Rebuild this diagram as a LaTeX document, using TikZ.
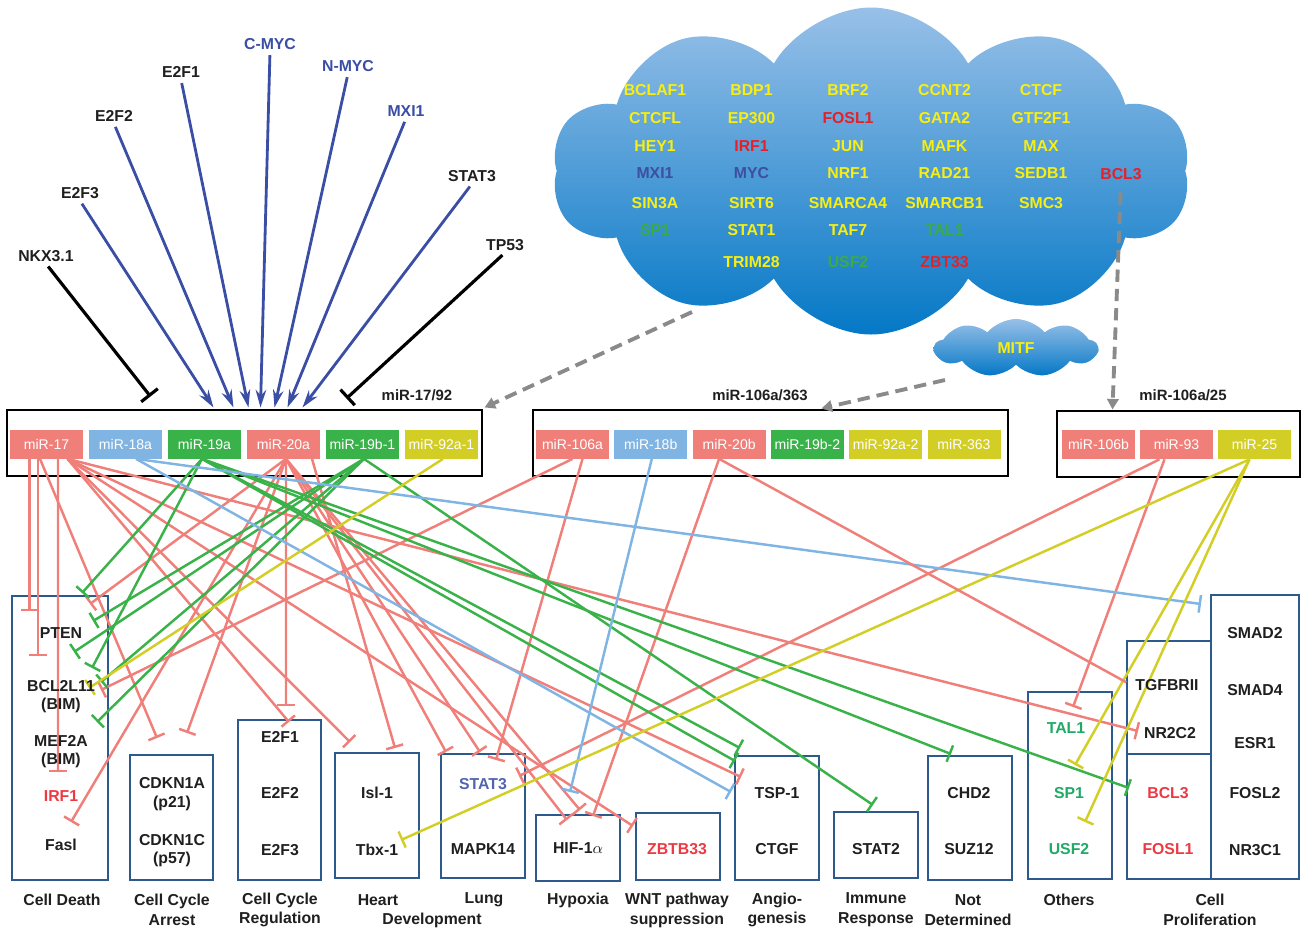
\documentclass[tikz,border=0pt]{standalone}
\usepackage{fontspec}
\setmainfont{Liberation Sans}
\usetikzlibrary{arrows.meta,calc,shapes.symbols}

\definecolor{mred}{RGB}{240,127,122}
\definecolor{mblue}{RGB}{128,180,226}
\definecolor{mgreen}{RGB}{58,178,74}
\definecolor{myel}{RGB}{211,206,38}
\definecolor{tfblue}{RGB}{58,78,165}
\definecolor{boxblue}{RGB}{45,90,140}
\definecolor{cyel}{RGB}{248,238,18}
\definecolor{cred}{RGB}{230,32,40}
\definecolor{cgreen}{RGB}{60,170,70}
\definecolor{cblue}{RGB}{62,78,160}
\definecolor{ctop}{RGB}{152,192,232}
\definecolor{cbot}{RGB}{4,120,198}
\definecolor{dgray}{RGB}{138,138,138}
\definecolor{tgreen}{RGB}{0,158,80}
\definecolor{tred}{RGB}{235,30,40}

\newcommand\pxu{0.02cm}

\tikzset{
  mir/.style={rectangle, minimum width=73*\pxu, minimum height=29*\pxu, inner sep=0pt,
    text=white, font=\fontsize{8}{9}\selectfont},
  frame/.style={draw, line width=0.6pt, inner sep=0pt},
  tbox/.style={draw=boxblue, line width=0.8pt, inner sep=0pt},
  lab/.style={font=\bfseries\fontsize{9}{11.3}\selectfont, text=black!88, align=center, inner sep=1pt},
  ctext/.style={font=\bfseries\fontsize{9}{10}\selectfont, inner sep=1pt},
  tfact/.style={tfblue, line width=1.6pt, -{Stealth[length=10pt,width=6pt]}, shorten <=2pt},
  tfinh/.style={black, line width=1.8pt, -{Bar[width=12pt]}, shorten <=2pt},
  inh/.style={#1, line width=1.4pt, -{Bar[width=10pt]}},
  link/.style={#1, line width=1.4pt},
  feed/.style={dgray, line width=2.2pt, dash pattern=on 7pt off 4pt, -{Triangle[length=6pt,width=6.5pt]}},
}

\begin{document}
\begin{tikzpicture}[x=0.02cm, y=-0.02cm]
\useasboundingbox (0,0) rectangle (1303,931);

% factor cloud
\node[cloud, cloud puffs=10, cloud puff arc=120, aspect=1.95, top color=ctop, bottom color=cbot,
  minimum width=638*\pxu, minimum height=327*\pxu, inner sep=0pt] (tfc) at (871,171) {};
\foreach \t/\cc/\c/\y [count=\i] in {
  BCLAF1/cyel/0/90, BDP1/cyel/1/90, BRF2/cyel/2/90, CCNT2/cyel/3/90, CTCF/cyel/4/90,
  CTCFL/cyel/0/118, EP300/cyel/1/118, FOSL1/cred/2/118, GATA2/cyel/3/118, GTF2F1/cyel/4/118,
  HEY1/cyel/0/146, IRF1/cred/1/146, JUN/cyel/2/146, MAFK/cyel/3/146, MAX/cyel/4/146,
  MXI1/cblue/0/173, MYC/cblue/1/173, NRF1/cyel/2/173, RAD21/cyel/3/173, SEDB1/cyel/4/173,
  SIN3A/cyel/0/203, SIRT6/cyel/1/203, SMARCA4/cyel/2/203, SMARCB1/cyel/3/203, SMC3/cyel/4/203,
  SP1/cgreen/0/230, STAT1/cyel/1/230, TAF7/cyel/2/230, TAL1/cgreen/3/230,
  TRIM28/cyel/1/262, USF2/cgreen/2/262, ZBT33/cred/3/262}
  \node[ctext, text=\cc] (g\i) at (655+96.5*\c,\y) {\t};
\node[ctext, text=cred] (bcl3) at (1121,174) {BCL3};
\node[cloud, cloud puffs=9, cloud puff arc=100, aspect=2.8, top color=ctop, bottom color=cbot,
  minimum width=163*\pxu, minimum height=58*\pxu, inner sep=0pt, text=cyel,
  font=\bfseries\fontsize{9}{10}\selectfont] (mitf) at (1016,348) {MITF};

% transcription factors
\node[lab] (nkx) at (46,256) {NKX3.1};
\node[lab] (e2f3) at (80,193) {E2F3};
\node[lab] (e2f2) at (114,116) {E2F2};
\node[lab] (e2f1) at (181,72) {E2F1};
\node[lab, text=tfblue] (cmyc) at (270,44) {C-MYC};
\node[lab, text=tfblue] (nmyc) at (348,66) {N-MYC};
\node[lab, text=tfblue] (mxi1) at (406,111) {MXI1};
\node[lab] (stat3) at (472,176) {STAT3};
\node[lab] (tp53) at (505,245) {TP53};

% clusters
\node[frame, minimum width=475*\pxu, minimum height=66*\pxu] (c1) at (244.5,443) {};
\node[frame, minimum width=475*\pxu, minimum height=66*\pxu] (c2) at (770.5,443) {};
\node[frame, minimum width=243*\pxu, minimum height=66*\pxu] (c3) at (1178.5,444) {};
\node[lab, font=\bfseries\fontsize{8.5}{10}\selectfont] (l1) at (417,395) {miR-17/92};
\node[lab, font=\bfseries\fontsize{8.5}{10}\selectfont] (l2) at (760,395) {miR-106a/363};
\node[lab, font=\bfseries\fontsize{8.5}{10}\selectfont] (l3) at (1183,395) {miR-106a/25};

\foreach \n/\t/\c [count=\i from 0] in {m17/miR-17/mred, m18a/miR-18a/mblue, m19a/miR-19a/mgreen,
    m20a/miR-20a/mred, m19b/miR-19b-1/mgreen, m92/miR-92a-1/myel}
  \node[mir, fill=\c] (\n) at (46.5+79*\i,444) {\t};
\foreach \n/\t/\c [count=\i from 0] in {m106a/miR-106a/mred, m18b/miR-18b/mblue, m20b/miR-20b/mred,
    m19b2/miR-19b-2/mgreen, m92b/miR-92a-2/myel, m363/miR-363/myel}
  \node[mir, fill=\c] (\n) at (572.5+78.3*\i,444) {\t};
\foreach \n/\t/\c [count=\i from 0] in {m106b/miR-106b/mred, m93/miR-93/mred, m25/miR-25/myel}
  \node[mir, fill=\c] (\n) at (1098.5+78*\i,444.5) {\t};

% regulation of the clusters
\foreach \s/\d in {e2f3/207, e2f2/227, e2f1/242, cmyc/254, nmyc/268, mxi1/281, stat3/296}
  \draw[tfact] (\s.south) -- ($(c1.north west)+(\d,-2)$);
\draw[tfinh] (nkx.south) -- ($(c1.north west)+(144,-13)$);
\draw[tfinh] (tp53.south) -- ($(c1.north west)+(340,-11)$);
\draw[feed] ($(tfc.center)+(-179,141)$) -- ($(c1.north east)+(2,-2)$);
\draw[feed] ($(mitf.center)+(-71,32)$) -- ($(c2.north west)+(289,-1)$);
\draw[feed, shorten <=6pt] (bcl3.south) -- ($(c3.north west)+(56,-1)$);

% target groups
\foreach \n/\x/\y/\w/\h in {cd/60/738/96/284, cca/171.5/817.5/83/125, ccr/279.5/800/83/160,
    hrt/377/815.5/84/125, lng/483/816/84/124, hyp/578/848/84/66, wnt/678/846.5/84/67,
    ang/777/818/84/124, imm/876/845/84/66, nd/970/818/84/124, oth/1070/785.5/84/187,
    tg/1169/697.5/84/113, bc/1169/816.5/84/125, sm/1255/737/88/284}
  \node[tbox, minimum width=\w*\pxu, minimum height=\h*\pxu] (\n) at (\x,\y) {};

% start points under the miRNAs
\coordinate (f17a) at ($(m17.south)+(-17,0)$);
\coordinate (f17b) at ($(m17.south)+(-8.5,0)$);
\coordinate (f17c) at ($(m17.south)+(11.5,0)$);
\coordinate (f17d) at ($(m17.south)+(-6.5,0)$);
\coordinate (f17e) at ($(m17.south)+(21,0)$);
\coordinate (f18) at ($(m18a.south)+(10.5,0)$);
\coordinate (f19) at ($(m19a.south)+(-2.5,0)$);
\coordinate (f20) at ($(m20a.south)+(2.5,0)$);
\coordinate (f20r) at ($(m20a.south)+(28.5,0)$);
\coordinate (f19b) at ($(m19b.south)+(1.5,0)$);
\coordinate (f92) at ($(m92.south)+(1.5,0)$);
\coordinate (f106l) at ($(m106a.south)+(0,0)$);
\coordinate (f106r) at ($(m106a.south)+(10,0)$);
\coordinate (f18b) at ($(m18b.south)+(1,0)$);
\coordinate (f20b) at ($(m20b.south)+(-10,0)$);
\coordinate (f93) at ($(m93.south)+(-17,0)$);
\coordinate (f93b) at ($(m93.south)+(-12,0)$);
\coordinate (f25) at ($(m25.south)+(-5,0)$);

% targets
\foreach \s/\x/\y in {f17a/29.5/611, f17b/38/656, f17c/58/772, f17d/157/738, f17e/289/722,
    f17e/350/742, f17e/633/826, f17e/741/777, f17e/1138/731,
    f20/286/706, f20/71/822, f20/187/733, f20/90/604, f20/446/752, f20/480/752,
    f20/567/820, f20/580/810, f20r/395/748,
    f106l/101/690, f106r/496/760, f20b/593/816, f93/519/776, f93b/1073/707}
  \draw[inh=mred] (\s) -- (\x,\y);
\foreach \s/\x/\y in {f19/82/593, f19/92/668, f19/740/748, f19/735/761, f19/951/754, f19/1129/788,
    f19b/93/621, f19b/74/652, f19b/101/682, f19b/97/722, f19b/873/805}
  \draw[inh=mgreen] (\s) -- (\x,\y);
\foreach \s/\x/\y in {f18/1201/604, f18/731/792, f18b/570/792}
  \draw[inh=mblue] (\s) -- (\x,\y);
\foreach \s/\x/\y in {f92/89/688, f25/401/840, f25/1075/765, f25/1085/822}
  \draw[inh=myel] (\s) -- (\x,\y);
\draw[link=mred] (f20b) -- ($(tg.north west)+(0,42)$);

% target genes
\foreach \t/\cc/\x/\y [count=\i] in {PTEN/black/61/633, BCL2L11/black/61/686, (BIM)/black/61/705,
    MEF2A/black/61/741, (BIM)/black/61/760, IRF1/tred/61/796, Fasl/black/61/845,
    CDKN1A/black/172/783, (p21)/black/172/803, CDKN1C/black/172/840, (p57)/black/172/859,
    E2F1/black/280/737, E2F2/black/280/793, E2F3/black/280/850,
    Isl-1/black/377/793, Tbx-1/black/377/850, STAT3/tfblue/483/784, MAPK14/black/483/849,
    HIF-1$\alpha$/black/578/848, ZBTB33/tred/677/849, TSP-1/black/777/793, CTGF/black/777/849,
    STAT2/black/876/849, CHD2/black/969/793, SUZ12/black/969/849,
    TAL1/tgreen/1066/728, SP1/tgreen/1069/793, USF2/tgreen/1069/849,
    TGFBRII/black/1167/685, NR2C2/black/1170/733, BCL3/tred/1168/793, FOSL1/tred/1168/849,
    SMAD2/black/1255/633, SMAD4/black/1255/690, ESR1/black/1255/743, FOSL2/black/1255/793,
    NR3C1/black/1255/850}
  \node[lab, text=\cc!88] (t\i) at (\x,\y) {\t};

% groups
\node[lab] (k1) at (62,900) {Cell Death};
\node[lab] (k2) at (172,910) {Cell Cycle\\Arrest};
\node[lab] (k3) at (280,910) {Cell Cycle\\Regulation};
\node[lab] (k4) at (378,900) {Heart};
\node[lab] (k5) at (432,920) {Development};
\node[lab] (k6) at (484,900) {Lung};
\node[lab] (k7) at (578,900) {Hypoxia};
\node[lab] (k8) at (677,910) {WNT pathway\\suppression};
\node[lab] (k9) at (777,910) {Angio-\\genesis};
\node[lab] (k10) at (876,910) {Immune\\Response};
\node[lab] (k11) at (968,910) {Not\\Determined};
\node[lab] (k12) at (1069,900) {Others};
\node[lab] (k13) at (1210,910) {Cell\\Proliferation};
\end{tikzpicture}
\end{document}
